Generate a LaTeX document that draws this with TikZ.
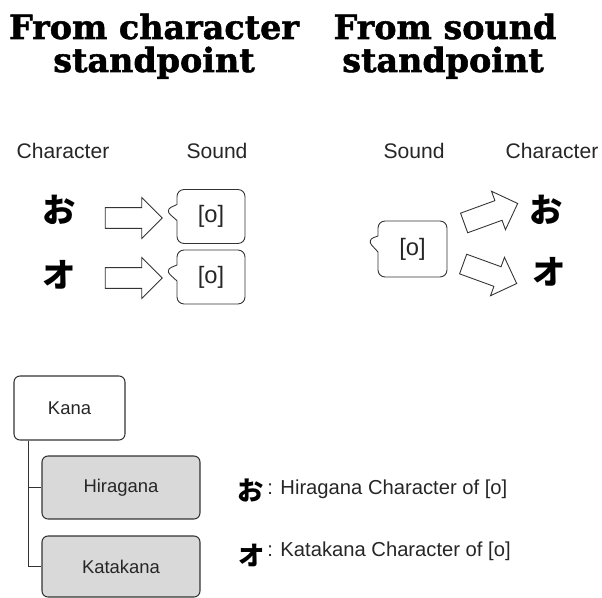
\documentclass[tikz,border=0pt]{standalone}
\usepackage{fontspec}
\setmainfont{Liberation Sans}
\newfontfamily\titlefont{DejaVu Serif}[BoldFeatures={FakeBold=1.6}]
\newfontfamily\kanafont{Noto Sans CJK JP}
\usetikzlibrary{positioning,shapes.arrows,shapes.callouts}

\begin{document}
\begin{tikzpicture}[x=0.02cm, y=-0.02cm,
  headline/.style={font=\titlefont\bfseries\fontsize{19}{22}\selectfont, inner sep=0, anchor=base},
  coltext/.style={font=\fontsize{12}{14}\selectfont, text=black!85, inner sep=0, anchor=base},
  kanachar/.style={font=\kanafont\bfseries\fontsize{19}{19}\selectfont, inner sep=0},
  smallchar/.style={font=\kanafont\bfseries\fontsize{15}{15}\selectfont, inner sep=0},
  sound/.style={rectangle callout, draw=black!80, line width=0.5pt, rounded corners=0.14cm,
    minimum width=1.36cm, minimum height=1.08cm, callout pointer width=0.32cm,
    font=\fontsize{13.5}{15}\selectfont, text=black!85},
  blockarrow/.style={single arrow, draw=black!80, line width=0.5pt, inner sep=0, inner ysep=0.2cm,
    minimum height=1.14cm, minimum width=0.8cm, single arrow head extend=0.2cm},
  kindbox/.style={draw=black!80, line width=0.6pt, rounded corners=0.12cm,
    font=\fontsize{10.5}{12}\selectfont, text=black!85},
  legend/.style={font=\fontsize{11.5}{13}\selectfont, text=black!85, inner sep=0, anchor=base west}]

\useasboundingbox (0,0) rectangle (602,598);

% titles
\node [headline] (title-char-1) at (154,39) {From character};
\node [headline] (title-char-2) at (154,72) {standpoint};
\node [headline] (title-sound-1) at (445,39) {From sound};
\node [headline] (title-sound-2) at (443,72) {standpoint};

\foreach \t/\x [count=\i] in {Character/63, Sound/217, Sound/414, Character/552}
  \node [coltext] (col-\i) at (\x,158) {\t};

% from character
\node [kanachar] (char-o) at (59,210) {お};
\node [kanachar] (char-O) at (59,275) {オ};
\foreach \y [count=\i] in {218,278}
  \node [blockarrow] (arrow-\i) at (128.5,\y) {};
\node [sound, callout absolute pointer={(165,210)}] (sound-1) at (211,216.5) {[o]};
\node [sound, callout absolute pointer={(165,270)}] (sound-2) at (211,277) {[o]};

% from sound
\node [sound, minimum height=1.12cm, minimum width=1.38cm,
  callout absolute pointer={(367,240)}] (sound-r) at (412.5,249) {[o]};
\node [blockarrow, rotate=20] (arrow-up) at (486,215) {};
\node [blockarrow, rotate=-20] (arrow-down) at (485,272) {};
\node [kanachar] (char-r-o) at (546,210) {お};
\node [kanachar] (char-r-O) at (549,272) {オ};

% kana tree
\node [kindbox, minimum width=2.22cm, minimum height=1.28cm] (kana) at (69.5,408) {Kana};
\node [kindbox, fill=black!15, minimum width=3.16cm, minimum height=1.26cm] (hira) at (121,487.5) {Hiragana};
\node [kindbox, fill=black!15, minimum width=3.16cm, minimum height=1.22cm] (kata) at (121,566.5) {Katakana};
\draw [black!80, line width=0.6pt] (kana.south west) ++(15,0) |- (hira.west);
\draw [black!80, line width=0.6pt] (kana.south west) ++(15,0) |- (kata.west);

% legend
\node [smallchar] (leg-o) at (251,491) {お};
\node [smallchar] (leg-O) at (252,555) {オ};
\node [legend] (leg-hira) at (267,494) {: Hiragana Character of [o]};
\node [legend] (leg-kata) at (267,556) {: Katakana Character of [o]};

\end{tikzpicture}
\end{document}
